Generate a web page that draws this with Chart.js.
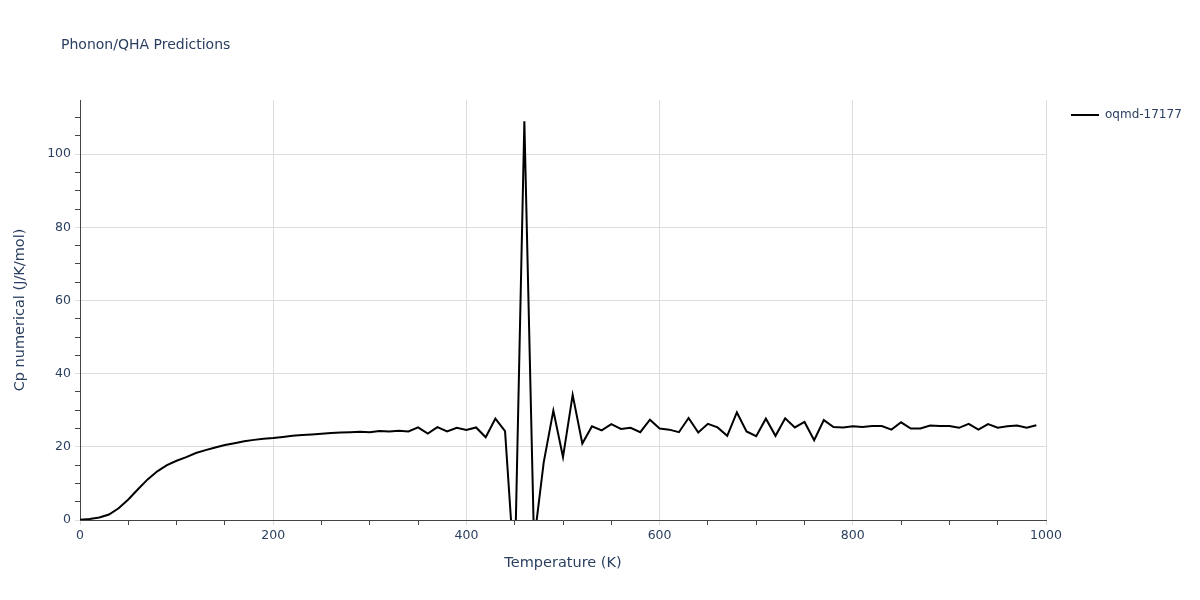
<!DOCTYPE html>
<html>
<head>
<meta charset="utf-8">
<script src="https://cdn.jsdelivr.net/npm/chart.js@4.4.1/dist/chart.umd.min.js"></script>
<style>
  body { margin: 0; background: #fff; }
  #chart { display: block; }
</style>
</head>
<body>
<canvas id="chart" width="1200" height="600"></canvas>
<script>
const temperatures = [
  0, 10, 20, 30, 40, 50, 60, 70, 80, 90,
  100, 110, 120, 130, 140, 150, 160, 170, 180, 190,
  200, 210, 220, 230, 240, 250, 260, 270, 280, 290,
  300, 310, 320, 330, 340, 350, 360, 370, 380, 390,
  400, 410, 420, 430, 440, 450, 460, 470, 480, 490,
  500, 510, 520, 530, 540, 550, 560, 570, 580, 590,
  600, 610, 620, 630, 640, 650, 660, 670, 680, 690,
  700, 710, 720, 730, 740, 750, 760, 770, 780, 790,
  800, 810, 820, 830, 840, 850, 860, 870, 880, 890,
  900, 910, 920, 930, 940, 950, 960, 970, 980, 990
];

const cpValues = [
  0.1, 0.3, 0.7, 1.5, 3.2, 5.6, 8.4, 11.1, 13.3, 15.0,
  16.2, 17.2, 18.3, 19.1, 19.8, 20.5, 21.0, 21.5, 21.9, 22.2,
  22.4, 22.7, 23.0, 23.2, 23.4, 23.6, 23.8, 23.9, 24.0, 24.1,
  24.0, 24.3, 24.2, 24.4, 24.2, 25.3, 23.6, 25.4, 24.2, 25.2,
  24.6, 25.3, 22.6, 27.7, 24.3, -15, 109, -6, 15.7, 29.9,
  17.2, 34.2, 20.9, 25.6, 24.5, 26.2, 24.9, 25.2, 24.0, 27.4,
  25.0, 24.7, 24.0, 27.9, 23.9, 26.3, 25.3, 23.0, 29.4, 24.2,
  22.9, 27.7, 23.0, 27.8, 25.3, 26.8, 21.8, 27.3, 25.4, 25.3,
  25.6, 25.4, 25.7, 25.7, 24.7, 26.7, 25.0, 25.0, 25.8, 25.7,
  25.7, 25.2, 26.3, 24.7, 26.2, 25.2, 25.6, 25.8, 25.2, 25.9
];

const seriesName = 'oqmd-17177';
const chartTitle = 'Phonon/QHA Predictions';
const xTitle = 'Temperature (K)';
const yTitle = 'Cp numerical (J/K/mol)';

const textColor = '#2a3f5f';
const gridColor = '#dddddd';
const fontFamily = '"DejaVu Sans", Verdana, sans-serif';

// title and legend drawn by hand so the plot area stays where plotly put it
const overlay = {
  id: 'overlay',
  afterDraw(chart) {
    const ctx = chart.ctx;
    ctx.save();
    ctx.fillStyle = textColor;
    ctx.font = '14px ' + fontFamily;
    ctx.textBaseline = 'middle';
    ctx.textAlign = 'left';
    ctx.fillText(chartTitle, 61, 45);

    const ds = chart.data.datasets[0];
    ctx.strokeStyle = ds.borderColor;
    ctx.lineWidth = 2;
    ctx.beginPath();
    ctx.moveTo(1071, 115);
    ctx.lineTo(1099, 115);
    ctx.stroke();
    ctx.font = '12px ' + fontFamily;
    ctx.fillText(ds.label, 1105, 115);
    ctx.restore();
  }
};

new Chart(document.getElementById('chart'), {
  type: 'line',
  data: {
    labels: temperatures,
    datasets: [{
      label: seriesName,
      data: temperatures.map((t, i) => ({ x: t, y: cpValues[i] })),
      borderColor: '#000000',
      backgroundColor: '#000000',
      borderWidth: 2,
      pointRadius: 0,
      tension: 0,
      fill: false
    }]
  },
  options: {
    responsive: false,
    animation: false,
    layout: { padding: { top: 100, right: 154, left: 0, bottom: 0 } },
    plugins: {
      legend: { display: false },
      title: { display: false },
      tooltip: { enabled: false }
    },
    scales: {
      x: {
        type: 'linear',
        min: 0,
        max: 1000,
        afterFit(scale) { scale.height = 80; },
        border: { color: '#444444', width: 1 },
        grid: {
          color: c => (c.tick && c.tick.value % 200 === 0) ? gridColor : 'rgba(0,0,0,0)',
          tickColor: c => (c.tick && c.tick.value % 200 === 0) ? gridColor : '#444444',
          tickLength: 5
        },
        ticks: {
          stepSize: 50,
          autoSkip: false,
          maxRotation: 0,
          padding: 3,
          color: textColor,
          font: { family: fontFamily, size: 12.5 },
          callback: v => (v % 200 === 0 ? String(v) : '')
        },
        title: {
          display: true,
          text: xTitle,
          color: textColor,
          font: { family: fontFamily, size: 14.5 },
          padding: 28
        }
      },
      y: {
        min: 0,
        max: 114.8,
        afterFit(scale) { scale.width = 80; },
        border: { color: '#444444', width: 1 },
        grid: {
          color: c => (c.tick && c.tick.value % 20 === 0) ? gridColor : 'rgba(0,0,0,0)',
          tickColor: c => {
            if (!c.tick || c.tick.value % 5 !== 0) return 'rgba(0,0,0,0)';
            return c.tick.value % 20 === 0 ? gridColor : '#444444';
          },
          tickLength: 5
        },
        ticks: {
          stepSize: 5,
          autoSkip: false,
          padding: 4,
          color: textColor,
          font: { family: fontFamily, size: 12.5 },
          callback: v => (v % 20 === 0 ? String(v) : '')
        },
        title: {
          display: true,
          text: yTitle,
          color: textColor,
          font: { family: fontFamily, size: 14.5 },
          padding: 12
        }
      }
    }
  },
  plugins: [overlay]
});
</script>
</body>
</html>
